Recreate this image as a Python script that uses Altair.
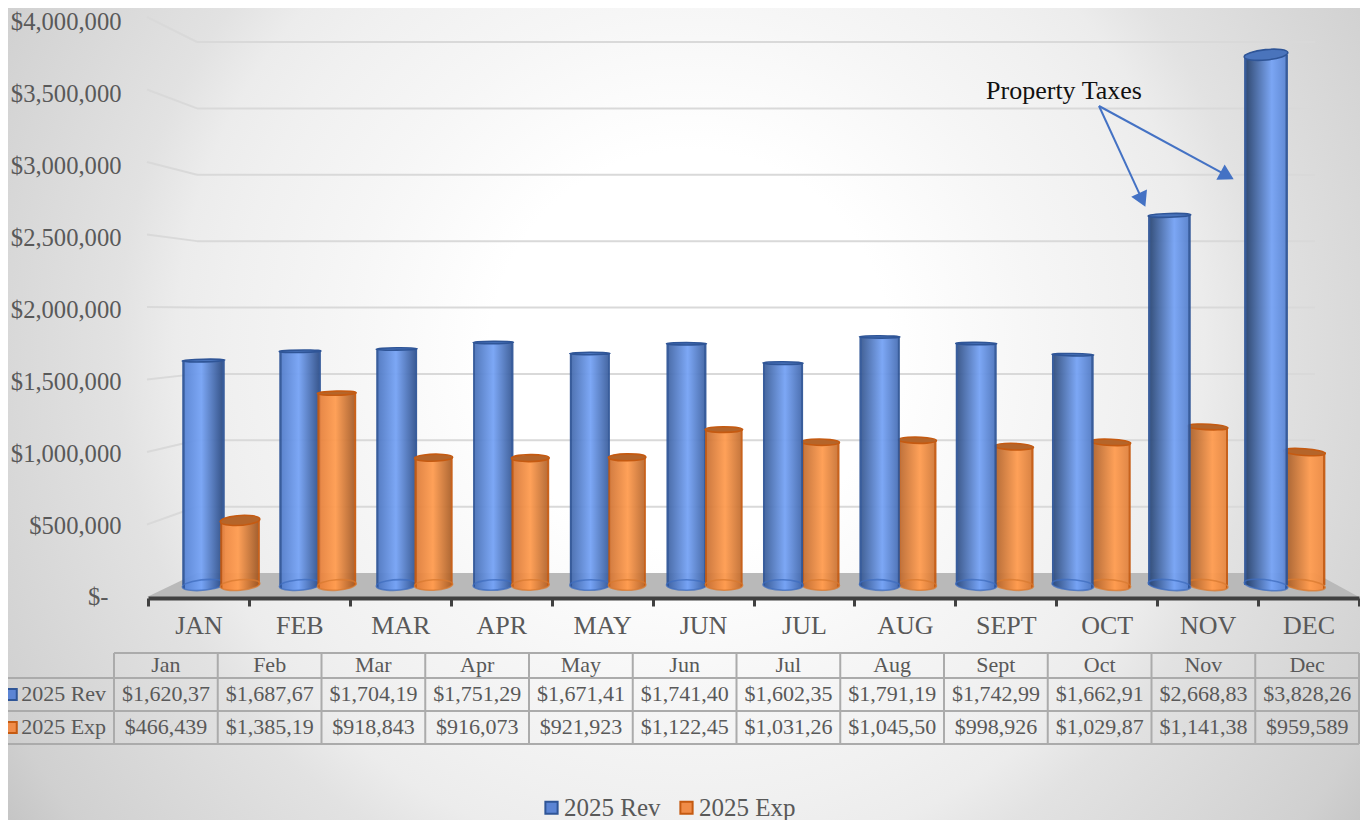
import math
import altair as alt
import pandas as pd

# ---- data ----
months_axis = ["JAN", "FEB", "MAR", "APR", "MAY", "JUN", "JUL", "AUG", "SEPT", "OCT", "NOV", "DEC"]
months_table = ["Jan", "Feb", "Mar", "Apr", "May", "Jun", "Jul", "Aug", "Sept", "Oct", "Nov", "Dec"]
rev_values = [1620370, 1687670, 1704190, 1751290, 1671410, 1741400, 1602350, 1791190, 1742990, 1662910, 2668830, 3828260]
exp_values = [466439, 1385190, 918843, 916073, 921923, 1122450, 1031260, 1045500, 998926, 1029870, 1141380, 959589]
rev_cells = ["$1,620,37", "$1,687,67", "$1,704,19", "$1,751,29", "$1,671,41", "$1,741,40", "$1,602,35", "$1,791,19", "$1,742,99", "$1,662,91", "$2,668,83", "$3,828,26"]
exp_cells = ["$466,439", "$1,385,19", "$918,843", "$916,073", "$921,923", "$1,122,45", "$1,031,26", "$1,045,50", "$998,926", "$1,029,87", "$1,141,38", "$959,589"]
axis_ticks = [0, 500000, 1000000, 1500000, 2000000, 2500000, 3000000, 3500000, 4000000]
series = ["2025 Rev", "2025 Exp"]
note = "Property Taxes"
zero_label = "$-"

# ---- layout ----
W, H = 1352, 812
OFF = 8
FONT = "Liberation Serif"
GREY = "#595959"


def mix(a, b, t):
    pa = [int(a[i:i + 2], 16) for i in (1, 3, 5)]
    pb = [int(b[i:i + 2], 16) for i in (1, 3, 5)]
    return "#" + "".join(f"{round(x + (y - x) * t):02x}" for x, y in zip(pa, pb))


# scales
front = alt.Scale(domain=[0, 4000000], range=[597 - OFF, 17 - OFF])      # front edge of the side wall
bar_y = alt.Scale(domain=[0, 4000000], range=[585 - OFF, 31 - OFF])      # bars
label_y = alt.Scale(domain=[0, 4000000], range=[598 - OFF, 22 - OFF])    # tick labels
wall_x = alt.Scale(domain=[0, 12], range=[148 - OFF, 1359 - OFF])
table_x = alt.Scale(domain=[0, 12], range=[114 - OFF, 1359 - OFF])
table_y = alt.Scale(domain=[0, 1, 2, 3], range=[653 - OFF, 678 - OFF, 711 - OFF, 744 - OFF])
rev_x = alt.Scale(type="band", domain=months_axis, range=[203.5 - 48.3 - OFF, 1266 + 48.3 - OFF], paddingInner=0, paddingOuter=0)
exp_x = alt.Scale(type="band", domain=months_axis, range=[240 - 48.35 - OFF, 1304.5 + 48.35 - OFF], paddingInner=0, paddingOuter=0)


def U(px):
    return (px - 148) / (1211 / 12)


def V(py):
    return (597 - py) / 145 * 1000000


layers = []

# background: circular radial gradient, on a square so that it stays round
bg = alt.Chart(pd.DataFrame({"a": [0]})).mark_rect(
    fill={"gradient": "radial", "x1": 0.5, "y1": 0.5, "x2": 0.5, "y2": 0.5, "r1": 0, "r2": 0.5,
          "stops": [{"offset": 0, "color": "#ffffff"}, {"offset": 0.24, "color": "#ffffff"},
                    {"offset": 0.415, "color": "#f6f6f6"}, {"offset": 0.55, "color": "#f0f0f0"},
                    {"offset": 0.62, "color": "#ececec"}, {"offset": 0.69, "color": "#e2e2e2"},
                    {"offset": 0.93, "color": "#d0d0d0"}, {"offset": 1, "color": "#c5c5c5"}]}
).encode(x=alt.value(-148), x2=alt.value(1512), y=alt.value(-488), y2=alt.value(1172))
layers.append(bg)

# floor
floor_df = pd.DataFrame({"u": [U(147), U(197), U(1315), U(1359)],
                         "top": [0, V(573), V(573), 0], "base": [0, 0, 0, 0]})
layers.append(alt.Chart(floor_df).mark_area(color="#b9b9b9", line=False).encode(
    x=alt.X("u:Q", scale=wall_x, axis=None),
    y=alt.Y("top:Q", scale=front, axis=None), y2="base:Q"))

# gridlines on the back wall and side wall
back_v = [V(573 - t * 531 / 4000000) for t in axis_ticks]
grid_df = pd.DataFrame({"v": axis_ticks, "back": back_v, "x0": U(147), "x1": U(197), "x2": U(1315)})
grid_df = grid_df[grid_df.v > 0]
layers.append(alt.Chart(grid_df).mark_rule(color="#d9d9d9", strokeWidth=2).encode(
    x=alt.X("x1:Q", scale=wall_x, axis=None), x2="x2:Q",
    y=alt.Y("back:Q", scale=front, axis=None)))
layers.append(alt.Chart(grid_df).mark_rule(color="#d9d9d9", strokeWidth=2).encode(
    x=alt.X("x0:Q", scale=wall_x, axis=None), x2="x1:Q",
    y=alt.Y("v:Q", scale=front, axis=None), y2="back:Q"))


# value axis
layers.append(alt.Chart(pd.DataFrame({"v": axis_ticks})).mark_point(opacity=0).encode(
    x=alt.value(0),
    y=alt.Y("v:Q", scale=label_y, axis=alt.Axis(
        orient="left", offset=-(121 - OFF), values=axis_ticks, domain=False, ticks=False, grid=False, zindex=1,
        title=None, labelPadding=0, labelFont=FONT, labelFontSize=24.6, labelColor=GREY,
        labelFlush=False, labelOverlap=False, labelBound=False,
        labelExpr="datum.value == 0 ? '' : '$' + format(datum.value, ',')"))))
layers.append(alt.Chart(pd.DataFrame({"u": [U(108.5)], "v": [0], "t": [zero_label]})).mark_text(
    font=FONT, fontSize=24.6, color=GREY, align="right", baseline="middle").encode(
    x=alt.X("u:Q", scale=wall_x, axis=None), y=alt.Y("v:Q", scale=label_y, axis=None), text="t:N"))

# category axis
layers.append(alt.Chart(pd.DataFrame({"m": months_axis})).mark_point(opacity=0).encode(
    y=alt.value(0),
    x=alt.X("m:N", sort=months_axis,
            scale=alt.Scale(type="band", domain=months_axis, range=[148 - OFF, 1359 - OFF], paddingInner=0, paddingOuter=0),
            axis=alt.Axis(orient="bottom", offset=-(H - (598 - OFF)), tickBand="extent", domainColor="#404040", domainWidth=4,
                          tickColor="#404040", tickWidth=3, tickSize=8, title=None, labelAngle=0, zindex=1,
                          labelFont=FONT, labelFontSize=26, labelColor=GREY, labelPadding=6, grid=False))))


# bars: one group per month, lit according to position like the 3D original
def cylinder(i, month, value, xs, left0, left1, right0, right1, peak, edge, rim, capfill, x_center, wbase):
    t = i / 11
    left = mix(left0, left1, t)
    right = mix(right0, right1, t)
    peak_at = 0.45 + 0.18 * t
    grad = {"gradient": "linear", "x1": 0, "x2": 1, "y1": 0, "y2": 0,
            "stops": [{"offset": 0, "color": edge}, {"offset": 0.05, "color": edge}, {"offset": 0.06, "color": left},
                      {"offset": peak_at, "color": peak},
                      {"offset": 0.94, "color": right}, {"offset": 0.95, "color": edge}, {"offset": 1, "color": edge}]}
    w = wbase + 3 * ((x_center - 680) / 520) ** 2

    def ellipse(py):
        tilt = 4e-5 * (x_center - 680) * (py - 300)
        ry_px = max(1.2, min(5.2, abs(py - 300) * 0.022))
        ry = 2 * ry_px / w
        c, s = math.cos(math.radians(tilt)), math.sin(math.radians(tilt))
        arc = f"A1,{ry:.4f},{tilt:.2f},1,1,"
        return f"M{-c:.4f},{-s:.4f}{arc}{c:.4f},{s:.4f}{arc}{-c:.4f},{-s:.4f}Z"

    top_py = 585 - value * 554 / 4000000
    df = pd.DataFrame({"m": [month], "v": [value], "zero": [0]})
    X = alt.X("m:N", scale=xs, axis=None)
    base = alt.Chart(df).encode(x=X)
    size = w * w
    out = [
        base.mark_point(shape=ellipse(585), size=size, filled=True, fill=grad, opacity=1, strokeWidth=0).encode(
            y=alt.Y("zero:Q", scale=bar_y, axis=None)),
        base.mark_bar(fill=grad, width=w, opacity=0.95).encode(
            y=alt.Y("v:Q", scale=bar_y, axis=None), y2="zero:Q"),
        base.mark_point(shape=ellipse(585), size=size, filled=False, stroke=rim, strokeWidth=1.6, opacity=0.75).encode(
            y=alt.Y("zero:Q", scale=bar_y, axis=None)),
        base.mark_point(shape=ellipse(top_py), size=size, filled=True, fill=capfill, stroke=edge, strokeWidth=1.6, opacity=1).encode(
            y=alt.Y("v:Q", scale=bar_y, axis=None)),
    ]
    return out


for i, m in enumerate(months_axis):
    blue = cylinder(i, m, rev_values[i], rev_x, "#5a86d6", "#2b4672", "#2f4f88", "#5d88d6", "#76a3f5",
                    "#2f5597", "#3f6dbf", "#4a74bc", 203.5 + 96.6 * i, 40)
    orange = cylinder(i, m, exp_values[i], exp_x, "#ec8640", "#a65f2c", "#a45c28", "#ee8c44", "#ff9c50",
                      "#c55a11", "#d97a30", "#b5652a", 240 + 96.77 * i, 37.5)
    layers += (blue + orange) if i <= 5 else (orange + blue)

# annotation
start = (1099, 106)
tips = [(1146, 208), (1235, 180)]
arrows = []
for tx, ty in tips:
    dx, dy = tx - start[0], ty - start[1]
    d = math.hypot(dx, dy)
    arrows.append({"x0": U(start[0]), "y0": V(start[1]),
                   "x1": U(tx - dx / d * 9), "y1": V(ty - dy / d * 9),
                   "ang": (math.degrees(math.atan2(dx, -dy))) % 360})
arrow_df = pd.DataFrame(arrows)
layers.append(alt.Chart(arrow_df).mark_rule(color="#4472c4", strokeWidth=2).encode(
    x=alt.X("x0:Q", scale=wall_x, axis=None), x2="x1:Q",
    y=alt.Y("y0:Q", scale=front, axis=None), y2="y1:Q"))
layers.append(alt.Chart(arrow_df).mark_point(shape="triangle-up", size=300, filled=True, color="#4472c4", opacity=1).encode(
    x=alt.X("x1:Q", scale=wall_x, axis=None),
    y=alt.Y("y1:Q", scale=front, axis=None),
    angle=alt.Angle("ang:Q", scale=None)))
layers.append(alt.Chart(pd.DataFrame({"u": [U(1064)], "v": [V(91)], "t": [note]})).mark_text(
    font=FONT, fontSize=26, color="#111111", align="center", baseline="middle").encode(
    x=alt.X("u:Q", scale=wall_x, axis=None), y=alt.Y("v:Q", scale=front, axis=None), text="t:N"))

# data table grid
v_df = pd.DataFrame({"c": list(range(13)), "r0": 0, "r1": 3})
h_df = pd.DataFrame({"r": [0, 1, 2, 3], "c0": [0, -1.1, -1.1, -1.1], "c1": 12})
layers.append(alt.Chart(v_df).mark_rule(color="#ababab", strokeWidth=2).encode(
    x=alt.X("c:Q", scale=table_x, axis=None),
    y=alt.Y("r0:Q", scale=table_y, axis=None), y2="r1:Q"))
layers.append(alt.Chart(h_df).mark_rule(color="#ababab", strokeWidth=2).encode(
    x=alt.X("c0:Q", scale=table_x, axis=None), x2="c1:Q",
    y=alt.Y("r:Q", scale=table_y, axis=None)))

# data table text
rows = []
for i in range(12):
    rows.append({"c": i + 0.5, "r": 0.5, "t": months_table[i]})
    rows.append({"c": i + 0.5, "r": 1.5, "t": rev_cells[i]})
    rows.append({"c": i + 0.5, "r": 2.5, "t": exp_cells[i]})
layers.append(alt.Chart(pd.DataFrame(rows)).mark_text(
    font=FONT, fontSize=22, color=GREY, align="center", baseline="middle", dy=-1).encode(
    x=alt.X("c:Q", scale=table_x, axis=None), y=alt.Y("r:Q", scale=table_y, axis=None), text="t:N"))

# row keys in the table
key_df = pd.DataFrame({"c": [-0.99, -0.99], "lab": [-0.895, -0.895], "r": [1.5, 2.5], "s": series})
layers.append(alt.Chart(key_df).mark_text(
    font=FONT, fontSize=22, color=GREY, align="left", baseline="middle", dy=-1).encode(
    x=alt.X("lab:Q", scale=table_x, axis=None), y=alt.Y("r:Q", scale=table_y, axis=None), text="s:N"))
layers.append(alt.Chart(key_df).mark_point(shape="square", filled=True, size=120, strokeWidth=2, opacity=1).encode(
    x=alt.X("c:Q", scale=table_x, axis=None), y=alt.Y("r:Q", scale=table_y, axis=None),
    fill=alt.Fill("s:N", scale=alt.Scale(domain=series, range=["#5b84d4", "#f08c48"]), legend=None),
    stroke=alt.Stroke("s:N", scale=alt.Scale(domain=series, range=["#2f5597", "#c55a11"]), legend=None)))

# legend
layers.append(alt.Chart(pd.DataFrame({"s": series})).mark_point(shape="square", filled=True, opacity=1).encode(
    x=alt.value(-50), y=alt.value(-50),
    fill=alt.Fill("s:N", scale=alt.Scale(domain=series, range=["#5b84d4", "#f08c48"]), title=None,
                  legend=alt.Legend(orient="none", legendX=539 - OFF, legendY=795 - OFF, direction="horizontal",
                                    symbolType="square", symbolSize=150, symbolStrokeWidth=2, symbolOpacity=1,
                                    labelFont=FONT, labelFontSize=25, labelColor=GREY, columns=2,
                                    columnPadding=13, labelOffset=0, padding=0, title=None)),
    stroke=alt.Stroke("s:N", scale=alt.Scale(domain=series, range=["#2f5597", "#c55a11"]), title=None)))

chart = alt.layer(*layers).resolve_scale(x="independent", y="independent", fill="independent", stroke="independent").resolve_axis(
    x="independent", y="independent").properties(
    width=W, height=H, padding=0, autosize=alt.AutoSizeParams(type="none"), background="white"
).configure_view(stroke=None, clip=False)

chart.save("out.html", embed_options={"renderer": "svg", "actions": False})
